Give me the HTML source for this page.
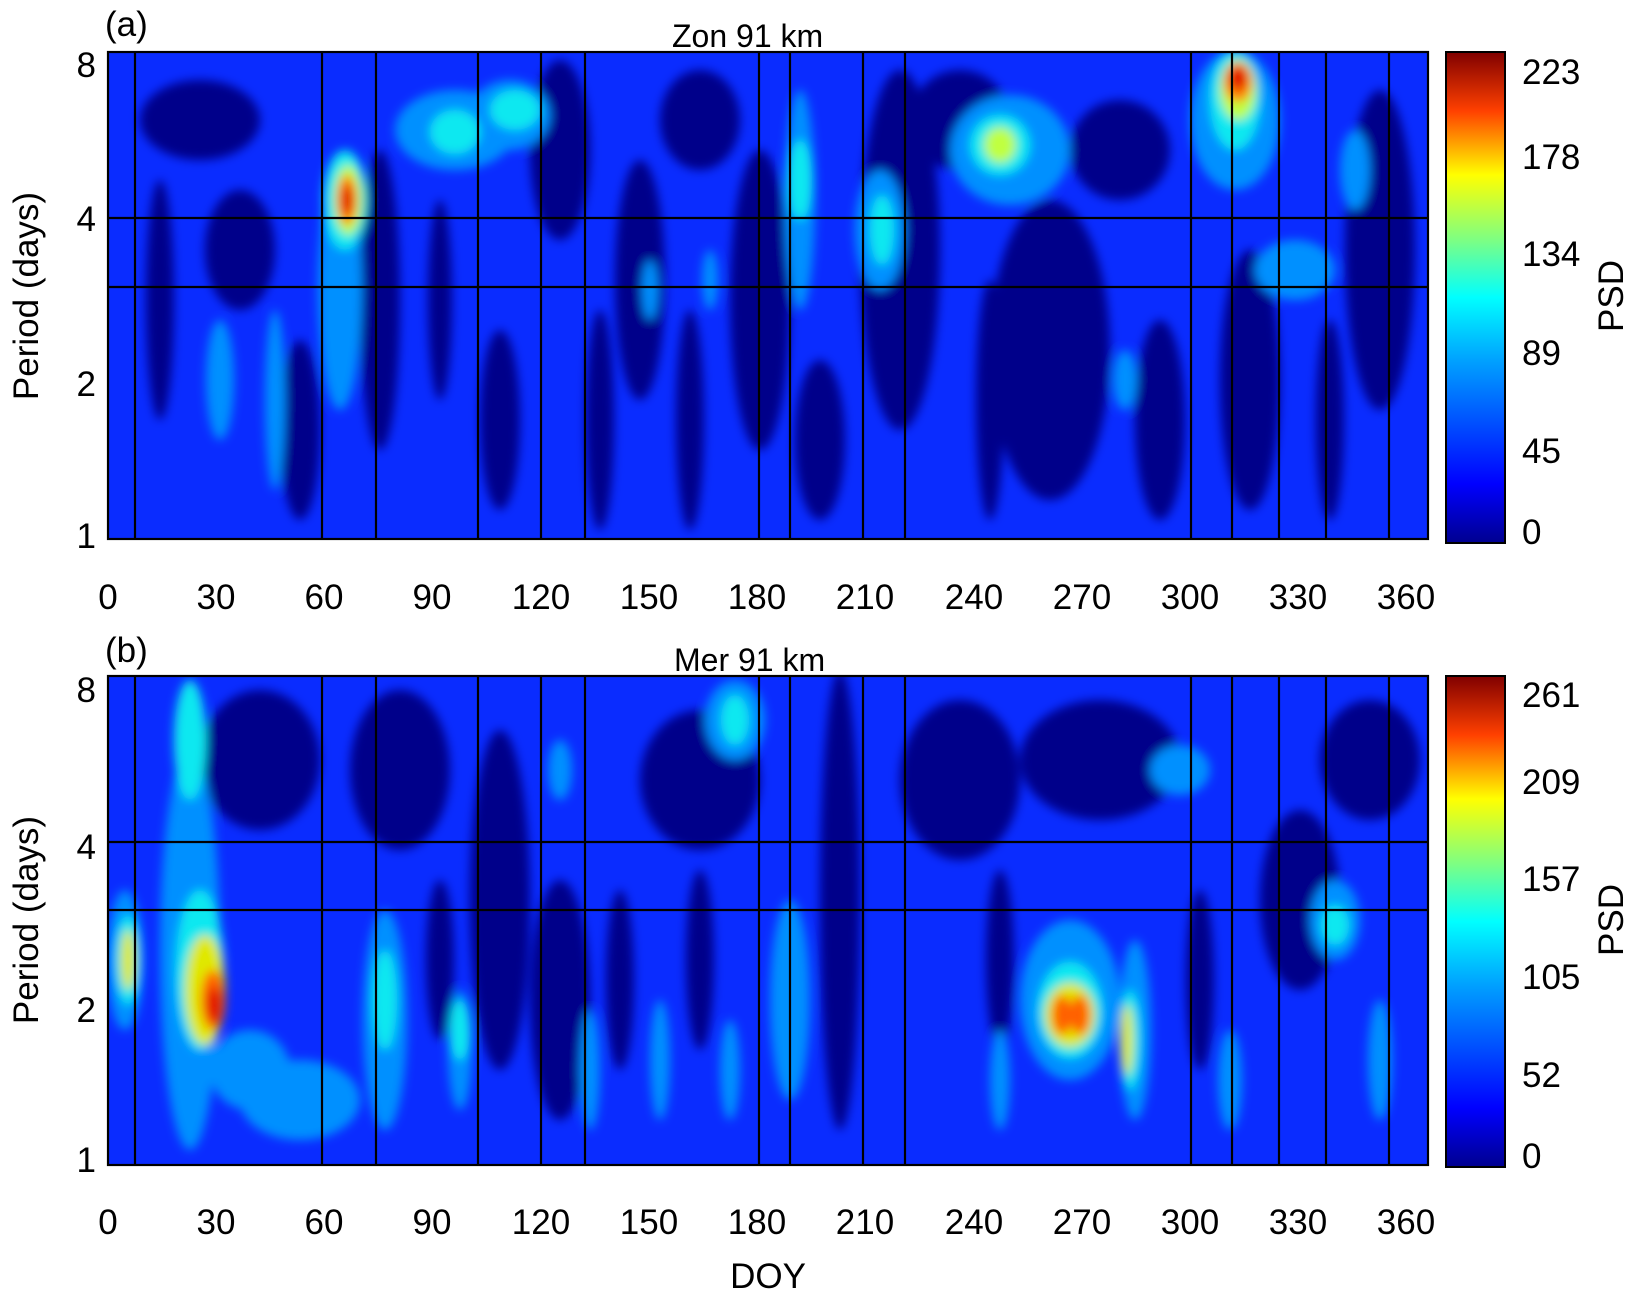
<!DOCTYPE html>
<html><head><style>body{margin:0;background:#fff}svg text{font-family:"Liberation Sans",sans-serif;fill:#000}</style></head>
<body>
<svg width="1631" height="1298" viewBox="0 0 1631 1298" xmlns="http://www.w3.org/2000/svg">
<defs>
<filter id="b" x="-50%" y="-50%" width="200%" height="200%"><feGaussianBlur stdDeviation="5"/></filter>
<linearGradient id="cb" x1="0" y1="1" x2="0" y2="0">
<stop offset="0" stop-color="#00008f"/><stop offset="0.12" stop-color="#0000ff"/><stop offset="0.37" stop-color="#00a0ff"/><stop offset="0.5" stop-color="#00ffff"/><stop offset="0.62" stop-color="#80ff80"/><stop offset="0.75" stop-color="#ffff00"/><stop offset="0.88" stop-color="#ff4000"/><stop offset="1" stop-color="#800000"/></linearGradient>
<clipPath id="ca"><rect x="108" y="52" width="1320" height="487"/></clipPath>
<clipPath id="cbp"><rect x="108" y="676" width="1320" height="489"/></clipPath>
</defs>
<!-- Panel A -->
<g clip-path="url(#ca)">
<rect x="108" y="52" width="1320" height="487" fill="#0a2cff"/>
<g filter="url(#b)">
<g fill="#00008a">
<ellipse cx="200" cy="120" rx="60" ry="40"/><ellipse cx="240" cy="250" rx="35" ry="60"/><ellipse cx="380" cy="300" rx="20" ry="150"/><ellipse cx="560" cy="150" rx="30" ry="90"/><ellipse cx="640" cy="280" rx="25" ry="120"/><ellipse cx="700" cy="120" rx="40" ry="50"/><ellipse cx="760" cy="300" rx="30" ry="150"/><ellipse cx="900" cy="250" rx="40" ry="180"/><ellipse cx="960" cy="120" rx="50" ry="50"/><ellipse cx="1050" cy="350" rx="60" ry="150"/><ellipse cx="1120" cy="150" rx="50" ry="50"/><ellipse cx="1250" cy="380" rx="30" ry="130"/><ellipse cx="1380" cy="250" rx="35" ry="160"/><ellipse cx="500" cy="420" rx="20" ry="90"/><ellipse cx="1160" cy="420" rx="25" ry="100"/><ellipse cx="300" cy="430" rx="20" ry="90"/><ellipse cx="820" cy="440" rx="25" ry="80"/>
<ellipse cx="440" cy="300" rx="12" ry="100"/><ellipse cx="600" cy="420" rx="14" ry="110"/><ellipse cx="690" cy="420" rx="14" ry="110"/><ellipse cx="990" cy="400" rx="14" ry="120"/><ellipse cx="160" cy="300" rx="14" ry="120"/><ellipse cx="1330" cy="420" rx="14" ry="100"/>
</g>
<g fill="#0090ff">
<ellipse cx="340" cy="290" rx="22" ry="120"/><ellipse cx="220" cy="380" rx="14" ry="60"/><ellipse cx="455" cy="130" rx="60" ry="40"/><ellipse cx="510" cy="115" rx="40" ry="35"/><ellipse cx="800" cy="200" rx="15" ry="110"/><ellipse cx="880" cy="230" rx="25" ry="60"/><ellipse cx="1010" cy="150" rx="60" ry="55"/><ellipse cx="1235" cy="120" rx="45" ry="70"/><ellipse cx="1355" cy="170" rx="15" ry="40"/><ellipse cx="1295" cy="270" rx="40" ry="30"/>
<ellipse cx="275" cy="400" rx="10" ry="90"/><ellipse cx="1125" cy="380" rx="12" ry="30"/><ellipse cx="710" cy="280" rx="8" ry="30"/><ellipse cx="650" cy="290" rx="8" ry="30"/>
</g>
<g fill="#10e8f0">
<ellipse cx="345" cy="200" rx="22" ry="50"/><ellipse cx="455" cy="132" rx="25" ry="22"/><ellipse cx="515" cy="110" rx="25" ry="20"/><ellipse cx="800" cy="180" rx="12" ry="40"/><ellipse cx="882" cy="230" rx="12" ry="35"/><ellipse cx="1000" cy="145" rx="30" ry="30"/><ellipse cx="1235" cy="100" rx="25" ry="50"/>
</g>
<g fill="#c0ff40"><ellipse cx="348" cy="200" rx="14" ry="35"/><ellipse cx="1000" cy="145" rx="16" ry="18"/><ellipse cx="1238" cy="90" rx="18" ry="30"/></g>
<g fill="#ff8000"><ellipse cx="347" cy="200" rx="10" ry="25"/><ellipse cx="1238" cy="82" rx="14" ry="20"/></g>
<g fill="#e00000"><ellipse cx="347" cy="200" rx="6" ry="15"/><ellipse cx="1238" cy="78" rx="9" ry="12"/></g>
</g>
</g>
<g stroke="#000" stroke-width="2.2" fill="none">
<rect x="108" y="52" width="1320" height="487"/>
<line x1="108" y1="218" x2="1428" y2="218"/><line x1="108" y1="287" x2="1428" y2="287"/>
<path d="M135 52V539M322 52V539M376 52V539M478 52V539M541 52V539M585 52V539M759 52V539M790 52V539M863 52V539M905 52V539M1191 52V539M1232 52V539M1279 52V539M1326 52V539M1389 52V539"/>
</g>
<rect x="1446" y="52" width="59" height="491" fill="url(#cb)" stroke="#000" stroke-width="2"/>
<!-- Panel B -->
<g clip-path="url(#cbp)">
<rect x="108" y="676" width="1320" height="489" fill="#0a2cff"/>
<g filter="url(#b)">
<g fill="#00008a">
<ellipse cx="260" cy="760" rx="60" ry="70"/><ellipse cx="400" cy="770" rx="50" ry="80"/><ellipse cx="500" cy="900" rx="30" ry="170"/><ellipse cx="700" cy="780" rx="60" ry="70"/><ellipse cx="840" cy="900" rx="20" ry="230"/><ellipse cx="960" cy="780" rx="60" ry="80"/><ellipse cx="1100" cy="760" rx="80" ry="60"/><ellipse cx="1300" cy="900" rx="40" ry="90"/><ellipse cx="1370" cy="760" rx="50" ry="60"/><ellipse cx="560" cy="1000" rx="30" ry="120"/>
<ellipse cx="440" cy="960" rx="14" ry="80"/><ellipse cx="620" cy="980" rx="14" ry="90"/><ellipse cx="700" cy="960" rx="14" ry="90"/><ellipse cx="1000" cy="960" rx="14" ry="90"/><ellipse cx="1200" cy="980" rx="14" ry="90"/>
</g>
<g fill="#0090ff">
<ellipse cx="190" cy="950" rx="30" ry="200"/><ellipse cx="385" cy="1020" rx="22" ry="110"/><ellipse cx="735" cy="720" rx="30" ry="40"/><ellipse cx="790" cy="1000" rx="20" ry="100"/><ellipse cx="1070" cy="1000" rx="50" ry="80"/><ellipse cx="1135" cy="1030" rx="16" ry="90"/><ellipse cx="1180" cy="770" rx="30" ry="25"/><ellipse cx="1335" cy="920" rx="25" ry="40"/><ellipse cx="125" cy="960" rx="18" ry="70"/><ellipse cx="250" cy="1070" rx="40" ry="40"/>
<ellipse cx="460" cy="1050" rx="12" ry="60"/><ellipse cx="590" cy="1070" rx="10" ry="60"/><ellipse cx="660" cy="1060" rx="10" ry="60"/><ellipse cx="730" cy="1070" rx="10" ry="50"/><ellipse cx="560" cy="770" rx="12" ry="30"/><ellipse cx="1000" cy="1080" rx="10" ry="50"/><ellipse cx="1380" cy="1060" rx="12" ry="60"/><ellipse cx="300" cy="1100" rx="60" ry="40"/><ellipse cx="1230" cy="1080" rx="12" ry="50"/>
</g>
<g fill="#10e8f0">
<ellipse cx="190" cy="740" rx="16" ry="60"/><ellipse cx="200" cy="970" rx="24" ry="80"/><ellipse cx="385" cy="1000" rx="12" ry="50"/><ellipse cx="735" cy="720" rx="14" ry="25"/><ellipse cx="1070" cy="1010" rx="32" ry="48"/><ellipse cx="1130" cy="1040" rx="10" ry="50"/><ellipse cx="1335" cy="925" rx="14" ry="20"/><ellipse cx="128" cy="960" rx="12" ry="45"/><ellipse cx="460" cy="1030" rx="10" ry="30"/>
</g>
<g fill="#e0e800"><ellipse cx="205" cy="990" rx="20" ry="55"/><ellipse cx="1070" cy="1015" rx="25" ry="32"/><ellipse cx="128" cy="960" rx="7" ry="30"/><ellipse cx="1127" cy="1040" rx="6" ry="35"/></g>
<g fill="#ff6000"><ellipse cx="213" cy="1000" rx="12" ry="30"/><ellipse cx="1062" cy="1015" rx="10" ry="20"/><ellipse cx="1080" cy="1015" rx="10" ry="20"/></g>
<g fill="#e00000"><ellipse cx="214" cy="1005" rx="7" ry="18"/></g>
</g>
</g>
<g stroke="#000" stroke-width="2.2" fill="none">
<rect x="108" y="676" width="1320" height="489"/>
<line x1="108" y1="842" x2="1428" y2="842"/><line x1="108" y1="910" x2="1428" y2="910"/>
<path d="M135 676V1165M322 676V1165M376 676V1165M478 676V1165M541 676V1165M585 676V1165M759 676V1165M790 676V1165M863 676V1165M905 676V1165M1191 676V1165M1232 676V1165M1279 676V1165M1326 676V1165M1389 676V1165"/>
</g>
<rect x="1446" y="676" width="59" height="491" fill="url(#cb)" stroke="#000" stroke-width="2"/>
<!-- Text -->
<g font-size="35">
<text x="105" y="36">(a)</text><text x="672" y="47" font-size="32">Zon  91 km</text>
<text x="105" y="662">(b)</text><text x="674" y="671" font-size="32">Mer  91 km</text>
<g text-anchor="end"><text x="96" y="77">8</text><text x="96" y="231">4</text><text x="96" y="396">2</text><text x="96" y="548">1</text>
<text x="96" y="702">8</text><text x="96" y="859">4</text><text x="96" y="1022">2</text><text x="96" y="1172">1</text></g>
<g text-anchor="middle">
<text x="108" y="609">0</text><text x="216" y="609">30</text><text x="324" y="609">60</text><text x="432" y="609">90</text><text x="541" y="609">120</text><text x="649" y="609">150</text><text x="757" y="609">180</text><text x="865" y="609">210</text><text x="974" y="609">240</text><text x="1082" y="609">270</text><text x="1190" y="609">300</text><text x="1298" y="609">330</text><text x="1406" y="609">360</text>
<text x="108" y="1234">0</text><text x="216" y="1234">30</text><text x="324" y="1234">60</text><text x="432" y="1234">90</text><text x="541" y="1234">120</text><text x="649" y="1234">150</text><text x="757" y="1234">180</text><text x="865" y="1234">210</text><text x="974" y="1234">240</text><text x="1082" y="1234">270</text><text x="1190" y="1234">300</text><text x="1298" y="1234">330</text><text x="1406" y="1234">360</text>
<text x="768" y="1288">DOY</text>
<text transform="translate(38 296) rotate(-90)">Period (days)</text>
<text transform="translate(38 920) rotate(-90)">Period (days)</text>
<text transform="translate(1623 296) rotate(-90)">PSD</text>
<text transform="translate(1623 920) rotate(-90)">PSD</text>
</g>
<g>
<text x="1522" y="84">223</text><text x="1522" y="169">178</text><text x="1522" y="266">134</text><text x="1522" y="365">89</text><text x="1522" y="463">45</text><text x="1522" y="544">0</text>
<text x="1522" y="707">261</text><text x="1522" y="794">209</text><text x="1522" y="891">157</text><text x="1522" y="989">105</text><text x="1522" y="1087">52</text><text x="1522" y="1168">0</text>
</g>
</g>
</svg>
</body></html>
